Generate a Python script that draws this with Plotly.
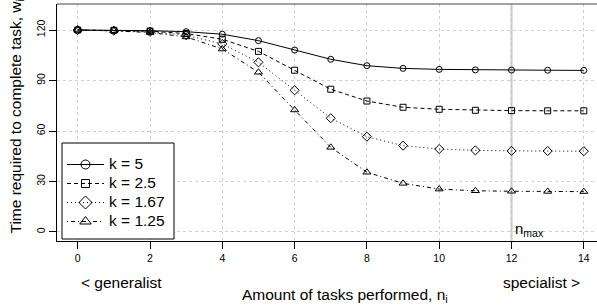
import plotly.graph_objects as go

n_tasks = list(range(15))
k_labels = ["k = 5", "k = 2.5", "k = 1.67", "k = 1.25"]
w_k5 = [120, 119.9, 119.6, 119, 117.5, 113.7, 108.1, 102.6, 98.8, 97.2, 96.6, 96.3, 96.2, 96.1, 96]
w_k25 = [120, 119.8, 119.3, 117.9, 114.5, 107.3, 96.1, 84.8, 77.8, 74.1, 72.9, 72.3, 72.1, 72, 72]
w_k167 = [120, 119.6, 118.9, 116.9, 111.7, 100.8, 84.2, 67.6, 56.6, 51.3, 49.3, 48.5, 48.2, 48.1, 48]
w_k125 = [120, 119.5, 118.5, 115.9, 108.7, 94.9, 72.5, 50.3, 35.5, 28.9, 25.5, 24.5, 24.2, 24.1, 24]
x_ticks = [0, 2, 4, 6, 8, 10, 12, 14]
y_ticks = [0, 30, 60, 90, 120]
n_max = 12

series = [w_k5, w_k25, w_k167, w_k125]
dashes = ["solid", "4px,3px", "1px,3px", "1px,3px,4px,3px"]
symbols = ["circle-open", "square-open", "diamond-open", "triangle-up-open"]
sizes = [6, 6, 7, 7]
legend_sizes = [9, 8, 10, 10]

FONT = "Arial, Liberation Sans, sans-serif"
W, H = 597, 307
L, R, T, B = 57, 0, 4, 66
pw, ph = W - L - R, H - T - B


def px_x(p):
    return (p - L) / pw


def px_y(p):
    return (H - B - p) / ph


fig = go.Figure()
for lab, ys, d, s, sz in zip(k_labels, series, dashes, symbols, sizes):
    fig.add_trace(go.Scatter(
        x=n_tasks, y=ys, name=lab, mode="lines+markers", showlegend=False,
        line=dict(color="black", width=1, dash=d),
        marker=dict(symbol=s, size=sz, color="black", line=dict(color="black", width=1)),
    ))
# legend entries (larger symbols, as in the reference legend)
for lab, d, s, sz in zip(k_labels, dashes, symbols, legend_sizes):
    fig.add_trace(go.Scatter(
        x=[None], y=[None], mode="lines+markers",
        name='<span style="font-size:15.5px">' + lab + "</span>",
        line=dict(color="black", width=1, dash=d),
        marker=dict(symbol=s, size=sz, color="black", line=dict(color="black", width=1)),
    ))

fig.add_shape(type="line", x0=n_max, x1=n_max, xref="x", y0=0, y1=1, yref="paper",
              line=dict(color="#c4c4c4", width=2), layer="below")
fig.add_shape(type="line", x0=0, x1=1, xref="paper", y0=1, y1=1, yref="paper",
              line=dict(color="#444", width=1))
# legend frame
fig.add_shape(type="rect", xref="paper", yref="paper",
              x0=px_x(62), x1=px_x(174), y0=px_y(239), y1=px_y(143),
              fillcolor="white", line=dict(color="black", width=1), layer="above")

fig.add_annotation(x=n_max, y=0, xref="x", yref="y", text="n<sub>max</sub>",
                   showarrow=False, xanchor="left", yanchor="bottom", xshift=1, yshift=-9,
                   font=dict(size=15, color="black", family=FONT))
fig.add_annotation(x=1.2, y=px_y(282), xref="x", yref="paper", text="< generalist",
                   showarrow=False, yanchor="middle",
                   font=dict(size=15.5, color="black", family=FONT))
fig.add_annotation(x=12.82, y=px_y(282), xref="x", yref="paper", text="specialist >",
                   showarrow=False, yanchor="middle",
                   font=dict(size=15.5, color="black", family=FONT))
fig.add_annotation(x=px_x(344.5), y=px_y(295), xref="paper", yref="paper",
                   text="Amount of tasks performed, n<sub>i</sub>", showarrow=False,
                   yanchor="middle",
                   font=dict(size=15.5, color="black", family=FONT))
fig.add_annotation(x=px_x(5), y=px_y(117), xref="paper", yref="paper",
                   text="Time required to complete task, w<sub>i</sub>", showarrow=False,
                   textangle=-90, font=dict(size=15.5, color="black", family=FONT))

fig.update_layout(
    width=W, height=H,
    margin=dict(l=L, r=R, t=T, b=B, autoexpand=False),
    paper_bgcolor="white", plot_bgcolor="white",
    font=dict(family=FONT, color="black"),
    showlegend=True,
    legend=dict(x=px_x(62), y=px_y(150), xanchor="left", yanchor="top",
                borderwidth=0, bgcolor="rgba(0,0,0,0)",
                font=dict(size=12.3, family=FONT), tracegroupgap=0,
                itemwidth=37),
)
fig.update_xaxes(range=[-0.573, 14.365], tickvals=x_ticks, ticks="outside", ticklen=7,
                 tickcolor="black", showline=True, linecolor="black", linewidth=1,
                 showgrid=True, gridcolor="#d0d0d0", griddash="dot", gridwidth=1,
                 zeroline=False, automargin=False, tickfont=dict(size=10.5, family=FONT))
fig.update_yaxes(range=[-5.35, 135.45], tickvals=y_ticks, ticks="outside", ticklen=7,
                 tickcolor="black", showline=True, linecolor="black", linewidth=1,
                 showgrid=True, gridcolor="#d0d0d0", griddash="dot", gridwidth=1,
                 zeroline=False, automargin=False, tickangle=-90, ticklabelstandoff=0,
                 tickfont=dict(size=10.5, family=FONT))

fig.write_html("out.html", config={"displayModeBar": False},
               post_script="document.body.style.margin='0';document.body.style.overflow='hidden';")
